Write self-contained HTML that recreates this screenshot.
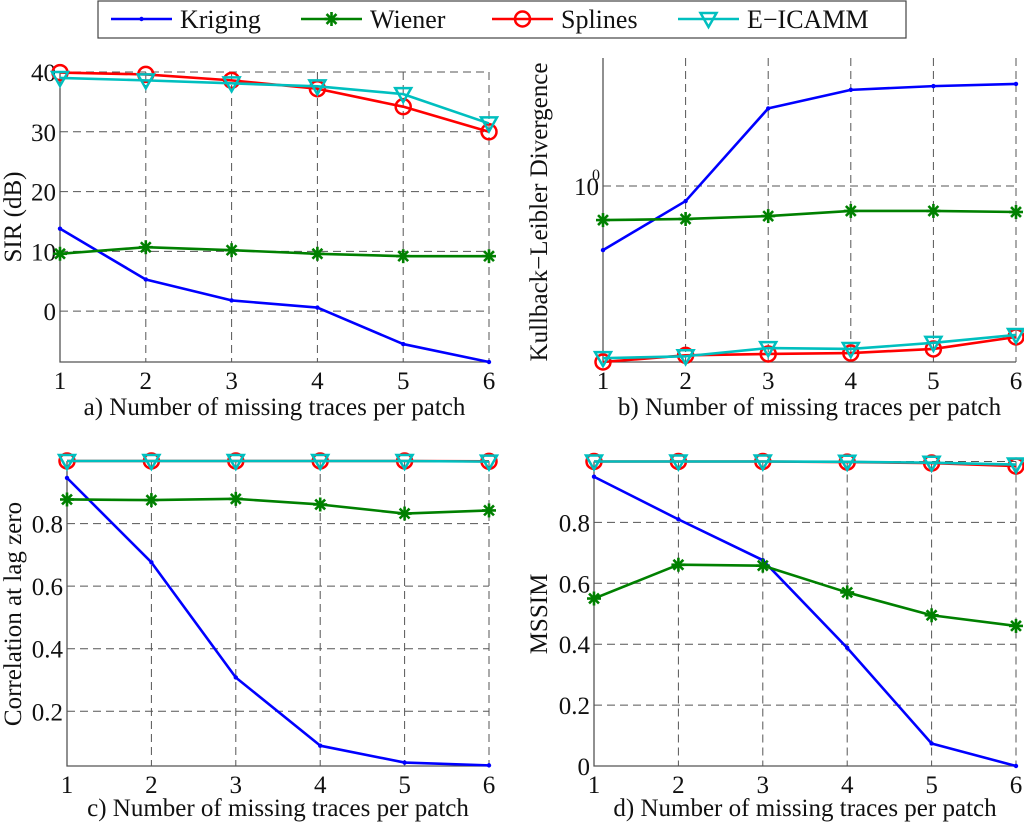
<!DOCTYPE html>
<html><head><meta charset="utf-8">
<style>
html,body{margin:0;padding:0;background:#fff;}
svg{display:block;font-family:"Liberation Serif",serif;}
</style></head>
<body>
<svg id="fig" width="1024" height="823" viewBox="0 0 1024 823" xmlns="http://www.w3.org/2000/svg">
  <g id="legend">
    <rect x="98" y="1" width="808" height="37" fill="#fff" stroke="#444" stroke-width="1.2"/>
  </g>
</svg>
<script>
const xCategories = [1, 2, 3, 4, 5, 6];
const seriesNames = ["Kriging", "Wiener", "Splines", "E\u2212ICAMM"];
const seriesColors = ["#0000ff", "#008000", "#ff0000", "#00bfbf"];

// Panel a: SIR (dB)
const sirKriging = [13.8, 5.3, 1.8, 0.6, -5.5, -8.5];
const sirWiener = [9.6, 10.7, 10.2, 9.6, 9.2, 9.2];
const sirSplines = [39.9, 39.6, 38.6, 37.2, 34.2, 30.0];
const sirEicamm = [39.0, 38.6, 38.1, 37.6, 36.3, 31.4];
const sirTicks = [0, 10, 20, 30, 40];

// Panel b: Kullback-Leibler divergence (log scale)
const klKriging = [0.645, 0.902, 1.70, 1.93, 1.98, 2.01];
const klWiener = [0.792, 0.798, 0.814, 0.843, 0.843, 0.837];
const klSplines = [0.300, 0.314, 0.317, 0.319, 0.328, 0.356];
const klEicamm = [0.308, 0.312, 0.330, 0.328, 0.342, 0.361];

// Panel c: Correlation at lag zero
const corKriging = [0.946, 0.676, 0.308, 0.090, 0.036, 0.027];
const corWiener = [0.877, 0.875, 0.879, 0.861, 0.832, 0.842];
const corSplines = [1.0, 1.0, 1.0, 1.0, 1.0, 0.999];
const corEicamm = [1.0, 1.0, 1.0, 1.0, 1.0, 0.998];
const corTicks = [0.2, 0.4, 0.6, 0.8];

// Panel d: MSSIM
const ssimKriging = [0.95, 0.81, 0.676, 0.388, 0.074, 0.0];
const ssimWiener = [0.55, 0.661, 0.658, 0.57, 0.495, 0.46];
const ssimSplines = [1.0, 1.0, 1.0, 0.998, 0.995, 0.985];
const ssimEicamm = [1.0, 1.0, 1.0, 0.999, 0.996, 0.99];
const ssimTicks = [0, 0.2, 0.4, 0.6, 0.8];

const FS = 25;
const NS = "http://www.w3.org/2000/svg";
const svg = document.getElementById('fig');
function mk(tag, attrs, parent) {
  const e = document.createElementNS(NS, tag);
  for (const k in attrs) e.setAttribute(k, attrs[k]);
  (parent || svg).appendChild(e);
  return e;
}

function marker(g, kind, x, y, color) {
  let m;
  if (kind === 0) {
    m = mk('circle', {cx: x, cy: y, r: 2.2, fill: color}, g);
  } else if (kind === 1) {
    m = mk('g', {stroke: color, 'stroke-width': 2.6}, g);
    const r = 7;
    for (let a = 0; a < 4; a++) {
      const t = a * Math.PI / 4;
      mk('line', {x1: x - r * Math.cos(t), y1: y - r * Math.sin(t), x2: x + r * Math.cos(t), y2: y + r * Math.sin(t)}, m);
    }
  } else if (kind === 2) {
    m = mk('circle', {cx: x, cy: y, r: 7.5, fill: 'none', stroke: color, 'stroke-width': 2.5}, g);
  } else {
    m = mk('polygon', {points: `${x - 8},${y - 6} ${x + 8},${y - 6} ${x},${y + 8}`, fill: 'none', stroke: color, 'stroke-width': 2.5}, g);
  }
  
  
}

function panel(cfg) {
  const g = mk('g', {});
  
  
  const {L, R, T, B} = cfg;
  const xs = v => L + (v - 1) / 5 * (R - L);
  const ys = cfg.ys;
  xCategories.forEach((c, i) => {
    if (i > 0 && i < 5) {
      const gl = mk('line', {x1: xs(c), x2: xs(c), y1: T, y2: B, stroke: '#555', 'stroke-width': 1, 'stroke-dasharray': '8,5'}, g);
      
      
    }
    const t = mk('text', {x: xs(c), y: B + 27, 'font-size': FS, 'text-anchor': 'middle', fill: '#111'}, g);
    t.textContent = c;
    
    
  });
  cfg.yTicks.forEach((v, i) => {
    const y = ys(v);
    if (Math.abs(y - T) > 2 && Math.abs(y - B) > 2) {
      const gl = mk('line', {x1: L, x2: R, y1: y, y2: y, stroke: '#555', 'stroke-width': 1, 'stroke-dasharray': '8,5'}, g);
      
      
    }
    const t = mk('text', {x: L - 4, y: y + 9, 'font-size': FS, 'text-anchor': 'end', fill: '#111'}, g);
    t.textContent = cfg.yLabels[i];
    
    
  });
  if (cfg.topLine) {
    const tl = mk('line', {x1: L, x2: R, y1: T, y2: T, stroke: '#555', 'stroke-width': 1, 'stroke-dasharray': '8,5'}, g);
    
    
  }
  const ax = mk('path', {d: `M${L},${T} L${L},${B} L${R},${B}`, fill: 'none', stroke: '#555', 'stroke-width': 1.3}, g);
  
  
  const rx = mk('line', {x1: R, x2: R, y1: T, y2: B, stroke: '#555', 'stroke-width': 1, 'stroke-dasharray': '8,5'}, g);
  
  
  cfg.series.forEach((vals, si) => {
    const sg = mk('g', {}, g);
    
    
    const pts = vals.map((v, i) => `${xs(xCategories[i])},${ys(v)}`).join(' ');
    const pl = mk('polyline', {points: pts, fill: 'none', stroke: seriesColors[si], 'stroke-width': 2.6, 'stroke-linejoin': 'round'}, sg);
    
    
    vals.forEach((v, i) => marker(sg, si, xs(xCategories[i]), ys(v), seriesColors[si]));
  });
  const xt = mk('text', {x: (L + R) / 2, y: B + cfg.xtDy, 'font-size': FS, 'text-anchor': 'middle', fill: '#111'}, g);
  xt.textContent = cfg.xTitle;
  
  
  const yt = mk('text', {x: 0, y: 0, 'font-size': FS, 'text-anchor': 'middle', fill: '#111', transform: `translate(${cfg.ytX},${cfg.ytY}) rotate(-90)`}, g);
  yt.textContent = cfg.yTitle;
  
  
  return g;
}

(function () {
  const T = 72, B = 362, vmin = -8.5, vmax = 40;
  panel({name: 'panel-a-sir', L: 60, R: 489, T, B,
    ys: v => B - (v - vmin) / (vmax - vmin) * (B - T),
    yTicks: sirTicks, yLabels: sirTicks.map(String), topLine: true,
    series: [sirKriging, sirWiener, sirSplines, sirEicamm],
    xTitle: 'a) Number of missing traces per patch', xtDy: 53,
    yTitle: 'SIR (dB)', ytX: 21, ytY: 217});
})();
(function () {
  const T = 58, B = 362, lmin = Math.log10(0.3), lmax = Math.log10(2.4);
  const g = panel({name: 'panel-b-kl-divergence', L: 603, R: 1016, T, B,
    ys: v => B - (Math.log10(v) - lmin) / (lmax - lmin) * (B - T),
    yTicks: [1], yLabels: ['10'], topLine: false,
    series: [klKriging, klWiener, klSplines, klEicamm],
    xTitle: 'b) Number of missing traces per patch', xtDy: 53,
    yTitle: 'Kullback\u2212Leibler Divergence', ytX: 547, ytY: 212});
  const sup = mk('text', {x: 600, y: 180, 'font-size': 16, 'text-anchor': 'end', fill: '#111'}, g);
  sup.textContent = '0';
  
  
})();
(function () {
  const T = 461, B = 766, vmin = 0.025, vmax = 1.0;
  panel({name: 'panel-c-correlation', L: 67, R: 489, T, B,
    ys: v => B - (v - vmin) / (vmax - vmin) * (B - T),
    yTicks: corTicks, yLabels: corTicks.map(v => v.toFixed(1)), topLine: true,
    series: [corKriging, corWiener, corSplines, corEicamm],
    xTitle: 'c) Number of missing traces per patch', xtDy: 50,
    yTitle: 'Correlation at lag zero', ytX: 21, ytY: 614});
})();
(function () {
  const T = 461.5, B = 766, vmin = 0, vmax = 1.0;
  panel({name: 'panel-d-mssim', L: 594, R: 1016, T, B,
    ys: v => B - (v - vmin) / (vmax - vmin) * (B - T),
    yTicks: ssimTicks, yLabels: ssimTicks.map(v => v === 0 ? '0' : v.toFixed(1)), topLine: true,
    series: [ssimKriging, ssimWiener, ssimSplines, ssimEicamm],
    xTitle: 'd) Number of missing traces per patch', xtDy: 50,
    yTitle: 'MSSIM', ytX: 547, ytY: 614});
})();

(function () {
  const lg = document.getElementById('legend');
  const lx = [111, 301, 492, 678];
  seriesNames.forEach((n, i) => {
    const e = mk('g', {}, lg);
    
    
    mk('line', {x1: lx[i], x2: lx[i] + 61, y1: 19, y2: 19, stroke: seriesColors[i], 'stroke-width': 2.6}, e);
    marker(e, i, lx[i] + 30.5, 19, seriesColors[i]);
    const t = mk('text', {x: lx[i] + 69, y: 28, 'font-size': 26, fill: '#111'}, e);
    t.textContent = n;
    
    
  });
})();
</script>
</body></html>
